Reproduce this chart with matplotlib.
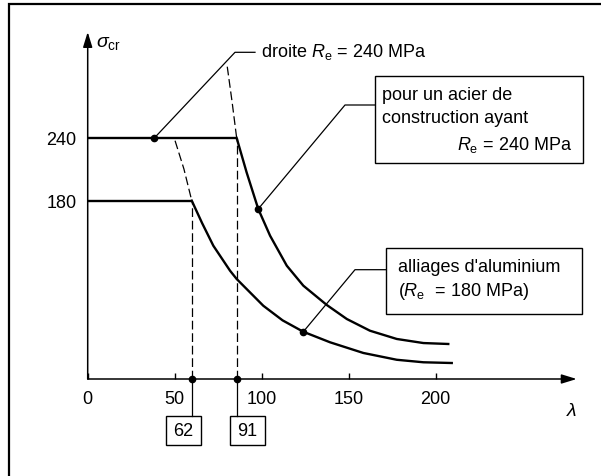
import matplotlib
matplotlib.use('Agg')
import matplotlib.pyplot as plt
from matplotlib.patches import Rectangle

plt.rcParams['font.family'] = ['Liberation Sans', 'DejaVu Sans']
plt.rcParams['mathtext.fontset'] = 'custom'
plt.rcParams['mathtext.rm'] = 'Liberation Sans'
plt.rcParams['mathtext.it'] = 'Liberation Sans:italic'
plt.rcParams['mathtext.bf'] = 'Liberation Sans:bold'

# ---------------- data ----------------
Re_values = [240, 180]                 # steel, aluminium plateaus
lam_limits = [85.6, 59.8]              # breakpoint positions on the drawing
lam_limit_labels = ['91', '62']

steel_lambda = [85.6, 91.3, 98.0, 104.8, 114.4, 123.9, 137.4, 148.9, 162.2, 177.6, 192.9, 207.2]
steel_sigma = [240, 207.2, 172.1, 146.5, 117.8, 98.7, 80.2, 66.8, 55.6, 47.7, 43.8, 42.9]

alu_lambda = [59.8, 65.7, 72.2, 81.8, 85.6, 100.9, 112.0, 123.9, 139.3, 158.4, 177.6, 192.9, 209.2]
alu_sigma = [180, 158.7, 136.9, 113.0, 105.1, 79.5, 65.5, 54.6, 44.5, 34.3, 27.8, 25.4, 24.7]

steel_dash_lambda = [80.2, 83.0, 85.6]
steel_dash_sigma = [308.2, 274.2, 240]
alu_dash_lambda = [50.2, 55.3, 59.8]
alu_dash_sigma = [237.4, 210.3, 180]

droite_point = (38.3, 240)
steel_point = (98.0, 172.1)
alu_point = (123.9, 54.6)

x_ticks = [0, 50, 100, 150, 200]
y_ticks = [180, 240]

W, H = 601, 477
fig = plt.figure(figsize=(W / 100, H / 100), dpi=100)

# overlay in pixel coordinates for frame / boxes / text
ov = fig.add_axes([0, 0, 1, 1])
ov.set_xlim(0, W)
ov.set_ylim(H, 0)
ov.axis('off')

ax_left, ax_right, ax_top, ax_bot = 87.7, 576.7, 33.0, 380.0
ax = fig.add_axes([ax_left / W, (H - ax_bot) / H, (ax_right - ax_left) / W, (ax_bot - ax_top) / H])
ax.patch.set_visible(False)
ax.set_xlim(0, 281)
ax.set_ylim(9.4, 341.4)
for s in ax.spines.values():
    s.set_visible(False)

FS = 13
# axes arrows
arrow_kw = dict(arrowstyle='-|>,head_length=0.65,head_width=0.2', mutation_scale=14,
                lw=1.1, color='black', shrinkA=0, shrinkB=0)
ax.annotate('', xy=(1, 0), xytext=(0, 0), xycoords='axes fraction', arrowprops=arrow_kw)
ax.annotate('', xy=(0, 1), xytext=(0, 0), xycoords='axes fraction', arrowprops=arrow_kw)

ax.set_xticks(x_ticks)
ax.set_xticklabels([str(v) for v in x_ticks], fontsize=FS)
ax.tick_params(axis='x', direction='in', length=4.5, width=1.0, pad=8)
ax.set_yticks(y_ticks)
ax.set_yticklabels([str(v) for v in y_ticks], fontsize=FS)
ax.tick_params(axis='y', length=0, pad=8)

# plateaus + curves
ax.plot([0, lam_limits[0]], [Re_values[0], Re_values[0]], color='black', lw=1.7, solid_capstyle='butt')
ax.plot(steel_lambda, steel_sigma, color='black', lw=1.7, solid_joinstyle='round')
ax.plot([0, lam_limits[1]], [Re_values[1], Re_values[1]], color='black', lw=1.7, solid_capstyle='butt')
ax.plot(alu_lambda, alu_sigma, color='black', lw=1.7, solid_joinstyle='round')

dash = (0, (7, 3))
ax.plot(steel_dash_lambda, steel_dash_sigma, color='black', lw=0.9, linestyle=dash)
ax.plot(alu_dash_lambda, alu_dash_sigma, color='black', lw=0.9, linestyle=dash)
for lam, re in zip(lam_limits, Re_values):
    ax.plot([lam, lam], [ax.get_ylim()[0], re], color='black', lw=0.9, linestyle=dash)
    ax.plot([lam], [ax.get_ylim()[0]], 'o', color='black', ms=4.5, clip_on=False, zorder=5)

for p in (droite_point, steel_point, alu_point):
    ax.plot([p[0]], [p[1]], 'o', color='black', ms=4.5, zorder=5)


def d2p(lam, sig):
    X, Y = ax.transData.transform((lam, sig))
    return X, H - Y


LW_THIN = 0.9
# frame (left and top edges)
ov.plot([9, 9, W], [H, 5, 5], color='black', lw=1.6, solid_joinstyle='miter')

# axis labels
ov.text(96, 43, r'$\sigma_{\mathrm{cr}}$', fontsize=FS + 1, ha='left', va='center')
ov.text(571.7, 411.7, r'$\lambda$', fontsize=FS + 1, ha='center', va='center')

# boxes under the x axis
box_x = {'62': (165.7, 201.0), '91': (230.0, 265.0)}
for lam, lab in zip(lam_limits, lam_limit_labels):
    px, py = d2p(lam, ax.get_ylim()[0])
    ov.plot([px, px], [py, 417.3], color='black', lw=LW_THIN)
    x0, x1 = box_x[lab]
    ov.add_patch(Rectangle((x0, 417.3), x1 - x0, 446 - 417.3, fill=False, ec='black', lw=1.0))
    ov.text((x0 + x1) / 2, 432, lab, fontsize=FS, ha='center', va='center')

# droite leader
px, py = d2p(*droite_point)
ov.plot([px, 235, 255], [py, 53.3, 53.3], color='black', lw=LW_THIN)
ov.text(260.7, 52, r'droite $R_\mathrm{e}$ = 240 MPa', fontsize=FS, ha='left', va='center')

# steel box
px, py = d2p(*steel_point)
ov.plot([px, 345, 375], [py, 106, 106], color='black', lw=LW_THIN)
ov.add_patch(Rectangle((375, 77.3), 583.3 - 375, 164.3 - 77.3, fill=False, ec='black', lw=1.0))
ov.text(382.3, 95, 'pour un acier de', fontsize=FS, ha='left', va='center')
ov.text(382.3, 118.3, 'construction ayant', fontsize=FS, ha='left', va='center')
ov.text(572.3, 145, r'$R_\mathrm{e}$ = 240 MPa', fontsize=FS, ha='right', va='center')

# aluminium box
px, py = d2p(*alu_point)
ov.plot([px, 355, 386], [py, 270.7, 270.7], color='black', lw=LW_THIN)
ov.add_patch(Rectangle((386, 249), 582.3 - 386, 315 - 249, fill=False, ec='black', lw=1.0))
ov.text(398, 268, "alliages d'aluminium", fontsize=FS, ha='left', va='center')
ov.text(398, 291.7, r'($R_\mathrm{e}$  = 180 MPa)', fontsize=FS, ha='left', va='center')

fig.savefig('out.png', dpi=100)
